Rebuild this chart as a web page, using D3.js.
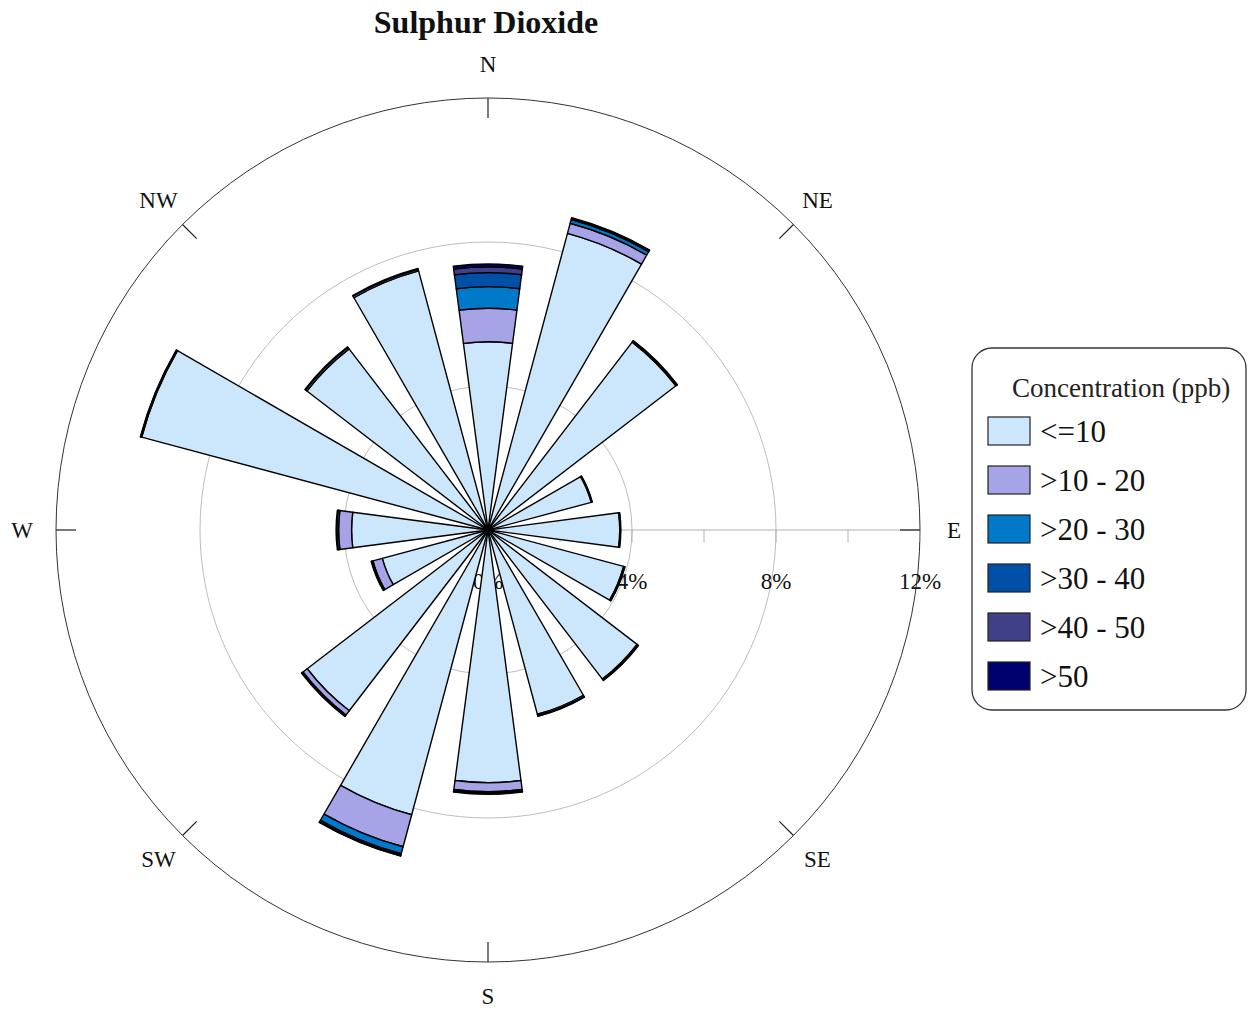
<!DOCTYPE html>
<html>
<head>
<meta charset="utf-8">
<script src="https://cdn.jsdelivr.net/npm/d3@7"></script>
<style>
  body { margin: 0; background: #fff; }
</style>
</head>
<body>
<div id="chart"></div>
<script>
// wind directions, clockwise from north
const directions = ['N', 'NNE', 'NE', 'ENE', 'E', 'ESE', 'SE', 'SSE',
                    'S', 'SSW', 'SW', 'WSW', 'W', 'WNW', 'NW', 'NNW'];

// concentration bins
const bins = ['<=10', '>10 - 20', '>20 - 30', '>30 - 40', '>40 - 50', '>50'];
const binColors = ['#cce6fb', '#a6a3e6', '#0079c9', '#0050a8', '#404088', '#00006e'];

// frequency (%) per direction for each bin
const le10  = [5.23, 8.53, 6.58, 2.97, 3.66, 3.90, 5.22, 5.30, 7.02, 8.19, 6.33, 3.04, 3.79, 9.96, 6.34, 7.45];
const b1020 = [0.93, 0.29, 0.03, 0.02, 0.02, 0.03, 0.04, 0.04, 0.25, 0.92, 0.15, 0.27, 0.36, 0.02, 0.05, 0.05];
const b2030 = [0.60, 0.11, 0.01, 0.01, 0.01, 0.01, 0.01, 0.01, 0.04, 0.20, 0.03, 0.04, 0.05, 0.01, 0.02, 0.02];
const b3040 = [0.39, 0.03, 0.01, 0.00, 0.00, 0.00, 0.00, 0.01, 0.02, 0.04, 0.01, 0.01, 0.02, 0.01, 0.00, 0.00];
const b4050 = [0.16, 0.01, 0.00, 0.00, 0.00, 0.00, 0.00, 0.00, 0.01, 0.02, 0.01, 0.00, 0.00, 0.00, 0.00, 0.00];
const gt50  = [0.08, 0.01, 0.00, 0.00, 0.00, 0.00, 0.00, 0.00, 0.00, 0.01, 0.00, 0.00, 0.00, 0.00, 0.00, 0.00];

const gridTicks = [4, 8, 12];
const minorTicks = [2, 6, 10];
const compass = ['N', 'NE', 'E', 'SE', 'S', 'SW', 'W', 'NW'];

const width = 1248, height = 1015;
const cx = 488, cy = 530;
const serif = '"Liberation Serif", "DejaVu Serif", serif';

const svg = d3.select('#chart').append('svg')
  .attr('width', width).attr('height', height)
  .style('font-family', serif);

svg.append('text')
  .attr('x', 486).attr('y', 33)
  .attr('text-anchor', 'middle')
  .attr('font-family', serif)
  .attr('font-size', 32).attr('font-weight', 'bold')
  .attr('fill', '#111')
  .text('Sulphur Dioxide');

const g = svg.append('g').attr('transform', `translate(${cx},${cy})`);

const r = d3.scaleLinear().domain([0, 12]).range([0, 432]);
const angle = d3.scaleBand().domain(directions).range([0, 2 * Math.PI]);
const half = 7.5 * Math.PI / 180;

// grid circles
g.selectAll('circle.grid')
  .data(gridTicks)
  .join('circle')
  .attr('r', d => r(d))
  .attr('fill', 'none')
  .attr('stroke', d => d === 12 ? '#333' : '#bdbdbd')
  .attr('stroke-width', 1);

// east axis with ticks
g.append('line')
  .attr('x1', 0).attr('x2', r(12)).attr('y1', 0).attr('y2', 0)
  .attr('stroke', '#b0b0b0');
g.selectAll('line.minor')
  .data(minorTicks.concat(gridTicks))
  .join('line')
  .attr('x1', d => r(d)).attr('x2', d => r(d))
  .attr('y1', 0).attr('y2', 12)
  .attr('stroke', '#b0b0b0');
g.selectAll('text.pct')
  .data([0].concat(gridTicks))
  .join('text')
  .attr('x', d => r(d)).attr('y', 59)
  .attr('text-anchor', 'middle')
  .attr('font-family', serif)
  .attr('font-size', 23)
  .attr('fill', '#111')
  .text(d => d + '%');

// compass ticks and labels
const compassAngle = d => compass.indexOf(d) * Math.PI / 4;
g.selectAll('line.compass')
  .data(compass)
  .join('line')
  .attr('x1', d => Math.sin(compassAngle(d)) * r(12))
  .attr('y1', d => -Math.cos(compassAngle(d)) * r(12))
  .attr('x2', d => Math.sin(compassAngle(d)) * (r(12) - 20))
  .attr('y2', d => -Math.cos(compassAngle(d)) * (r(12) - 20))
  .attr('stroke', '#222').attr('stroke-width', 1.2);
g.selectAll('text.compass')
  .data(compass)
  .join('text')
  .attr('x', d => Math.sin(compassAngle(d)) * 466)
  .attr('y', d => -Math.cos(compassAngle(d)) * 466)
  .attr('text-anchor', 'middle')
  .attr('dominant-baseline', 'central')
  .attr('font-family', serif)
  .attr('font-size', 23)
  .attr('fill', '#111')
  .text(d => d);

// stacked wedges
const table = directions.map((d, i) => ({
  dir: d, b0: le10[i], b1: b1020[i], b2: b2030[i], b3: b3040[i], b4: b4050[i], b5: gt50[i]
}));
const keys = ['b0', 'b1', 'b2', 'b3', 'b4', 'b5'];
const series = d3.stack().keys(keys)(table);

const arc = d3.arc()
  .innerRadius(d => r(d[0]))
  .outerRadius(d => r(d[1]))
  .startAngle(d => angle(d.data.dir) - half)
  .endAngle(d => angle(d.data.dir) + half);

g.selectAll('g.layer')
  .data(series)
  .join('g')
  .attr('fill', (d, i) => binColors[i])
  .selectAll('path')
  .data(d => d.filter(p => p[1] - p[0] > 0))
  .join('path')
  .attr('d', arc)
  .attr('stroke', '#000')
  .attr('stroke-width', 1.4)
  .attr('stroke-linejoin', 'round');

// legend
const lg = svg.append('g').attr('transform', 'translate(972,348)');
lg.append('rect')
  .attr('width', 274).attr('height', 362)
  .attr('rx', 20).attr('ry', 20)
  .attr('fill', '#fff').attr('stroke', '#333').attr('stroke-width', 1.3);
lg.append('text')
  .attr('x', 40).attr('y', 49)
  .attr('font-family', serif)
  .attr('font-size', 27)
  .attr('fill', '#222')
  .text('Concentration (ppb)');
const item = lg.selectAll('g.item')
  .data(bins)
  .join('g')
  .attr('transform', (d, i) => `translate(16,${69 + i * 49})`);
item.append('rect')
  .attr('width', 42).attr('height', 28)
  .attr('fill', (d, i) => binColors[i])
  .attr('stroke', '#222').attr('stroke-width', 1.2);
item.append('text')
  .attr('x', 52).attr('y', 25)
  .attr('font-family', serif)
  .attr('font-size', 31)
  .attr('fill', '#111')
  .text(d => d);
</script>
</body>
</html>
